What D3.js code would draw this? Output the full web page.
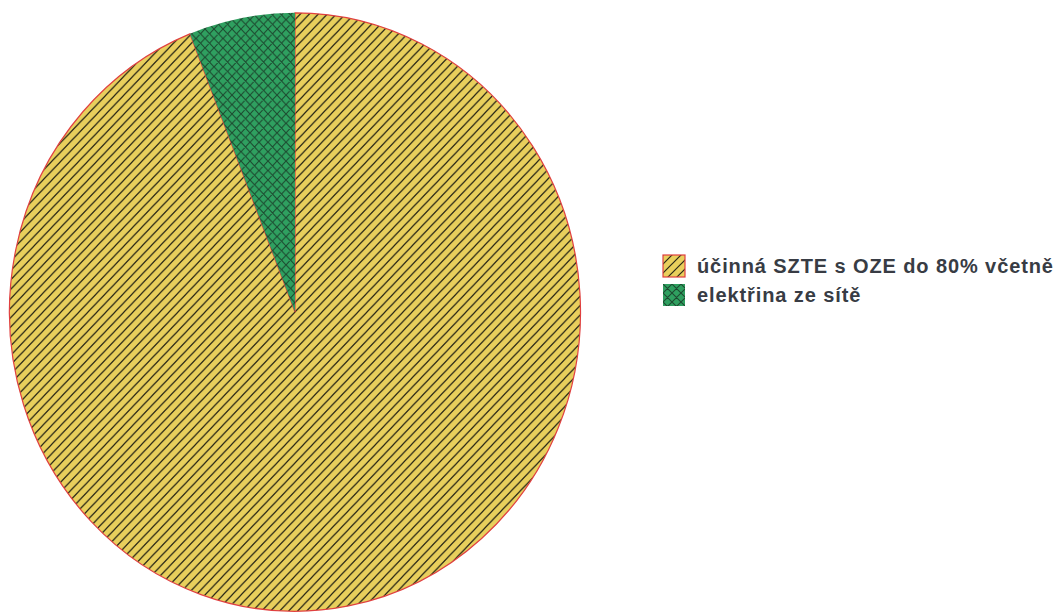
<!DOCTYPE html>
<html>
<head>
<meta charset="utf-8">
<script src="https://cdn.jsdelivr.net/npm/d3@7"></script>
<style>
body { margin: 0; background: #fff; }
</style>
</head>
<body>
<script>
var labels = ["účinná SZTE s OZE do 80% včetně", "elektřina ze sítě"];
var values = [94, 6];
var fills = ["url(#hatch)", "url(#cross)"];

var width = 1059, height = 615;
var cx = 295, cy = 312, r = 285.5, squash = 1.048;

var svg = d3.select("body").append("svg")
	.attr("width", width)
	.attr("height", height);

var defs = svg.append("defs");
var hatch = defs.append("pattern")
	.attr("id", "hatch")
	.attr("patternUnits", "userSpaceOnUse")
	.attr("width", 9).attr("height", 9);
hatch.append("rect").attr("width", 9).attr("height", 9).attr("fill", "#e8cf5c");
hatch.append("path")
	.attr("d", "M-2,2 L2,-2 M0,9 L9,0 M7,11 L11,7")
	.attr("stroke", "#2a2816").attr("stroke-width", 1.2);

var cross = defs.append("pattern")
	.attr("id", "cross")
	.attr("patternUnits", "userSpaceOnUse")
	.attr("width", 9).attr("height", 9);
cross.append("rect").attr("width", 9).attr("height", 9).attr("fill", "#2fa060");
cross.append("path")
	.attr("d", "M-2,2 L2,-2 M0,9 L9,0 M7,11 L11,7 M-2,7 L2,11 M0,0 L9,9 M7,-2 L11,2")
	.attr("stroke", "#1d4a30").attr("stroke-width", 1.1);

var pie = d3.pie().sort(null);
var arc = d3.arc().innerRadius(0).outerRadius(r);

var g = svg.append("g")
	.attr("transform", "translate(" + cx + "," + cy + ") scale(1," + squash + ")");

g.selectAll("path.slice")
	.data(pie(values))
	.enter().append("path")
	.attr("class", "slice")
	.attr("d", arc)
	.attr("fill", function(d, i){ return fills[i]; })
	.attr("stroke", function(d, i){ return i == 0 ? "#e04040" : "none"; })
	.attr("stroke-width", 1.2);

// legend
var legend = svg.append("g").attr("transform", "translate(663,255)");
var item = legend.selectAll("g")
	.data(labels)
	.enter().append("g")
	.attr("transform", function(d, i){ return "translate(0," + (i * 29) + ")"; });

item.append("rect")
	.attr("width", 22).attr("height", 22)
	.attr("fill", function(d, i){ return fills[i]; })
	.attr("stroke", function(d, i){ return i == 0 ? "#e04040" : "none"; })
	.attr("stroke-width", 1.2);

item.append("text")
	.attr("x", 34).attr("y", 18)
	.attr("font-family", "'Liberation Sans', Arial, sans-serif")
	.attr("font-weight", "bold")
	.attr("font-size", "20px")
	.attr("letter-spacing", "0.9px")
	.attr("fill", "#383c44")
	.text(function(d){ return d; });
</script>
</body>
</html>
